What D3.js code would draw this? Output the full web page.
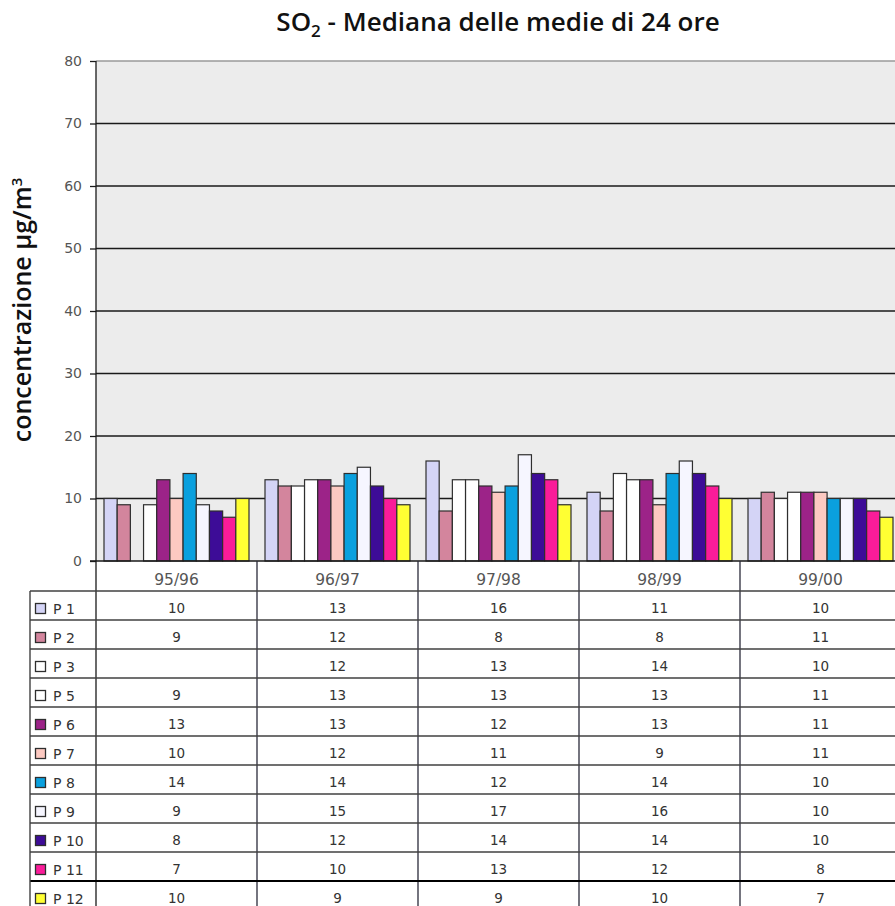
<!DOCTYPE html>
<html>
<head>
<meta charset="utf-8">
<script src="https://cdn.jsdelivr.net/npm/d3@7"></script>
<style>
  html, body { margin: 0; padding: 0; background: #ffffff; }
  svg { display: block; font-family: "DejaVu Sans", Verdana, sans-serif; }
</style>
</head>
<body>
<svg id="chart" width="895" height="906"></svg>
<script>
// Seasons (categories) shown along the x axis
const seasons = ["95/96", "96/97", "97/98", "98/99", "99/00"];

// Monitoring points
const stations = ["P 1", "P 2", "P 3", "P 5", "P 6", "P 7", "P 8", "P 9", "P 10", "P 11", "P 12"];

// Median of 24-hour means per station, one value per season (null = no data)
const p1  = [10, 13, 16, 11, 10];
const p2  = [9, 12, 8, 8, 11];
const p3  = [null, 12, 13, 14, 10];
const p5  = [9, 13, 13, 13, 11];
const p6  = [13, 13, 12, 13, 11];
const p7  = [10, 12, 11, 9, 11];
const p8  = [14, 14, 12, 14, 10];
const p9  = [9, 15, 17, 16, 10];
const p10 = [8, 12, 14, 14, 10];
const p11 = [7, 10, 13, 12, 8];
const p12 = [10, 9, 9, 10, 7];

const seriesValues = [p1, p2, p3, p5, p6, p7, p8, p9, p10, p11, p12];

// Fill colours of each station
const stationColors = ["#d4d4f6", "#d3859d", "#ffffff", "#ffffff", "#9c2388", "#fcc9c1",
                       "#0aa0de", "#f6f6ff", "#3d0c97", "#fa1c99", "#ffff33"];

// y axis ticks
const yTicks = [0, 10, 20, 30, 40, 50, 60, 70, 80];

const svg = d3.select("#chart");
const W = 895, H = 906;

const plot = { left: 96, right: 901, top: 61, bottom: 561 };
const catRowBottom = 591;
const tableLeft = 30;
const tableBottom = 910;

const x = d3.scaleBand().domain(seasons).range([plot.left, plot.right]).padding(0);
const inner = d3.scaleBand().domain(stations).range([8, x.bandwidth() - 8]).padding(0);
const y = d3.scaleLinear().domain([0, 80]).range([plot.bottom, plot.top]);
const rowY = d3.scaleBand().domain(stations).range([catRowBottom, tableBottom]).padding(0);
const color = d3.scaleOrdinal().domain(stations).range(stationColors);

svg.append("defs").append("clipPath").attr("id", "clip")
  .append("rect").attr("x", 0).attr("y", 0).attr("width", W).attr("height", H);

const g = svg.append("g").attr("clip-path", "url(#clip)");

// plot background
g.append("rect")
  .attr("x", plot.left).attr("y", plot.top)
  .attr("width", plot.right - plot.left).attr("height", plot.bottom - plot.top)
  .attr("fill", "#ececec");

// horizontal gridlines
g.append("g").selectAll("line").data(yTicks.filter(d => d > 0)).join("line")
  .attr("x1", plot.left).attr("x2", plot.right)
  .attr("y1", d => y(d)).attr("y2", d => y(d))
  .attr("stroke", d => d === 80 ? "#9a9a9a" : "#1a1a1a")
  .attr("stroke-width", 1.3);

// bars
const bars = [];
stations.forEach((s, si) => {
  seasons.forEach((c, ci) => {
    const v = seriesValues[si][ci];
    if (v !== null) bars.push({ station: s, season: c, value: v });
  });
});

g.append("g").selectAll("rect").data(bars).join("rect")
  .attr("x", d => x(d.season) + inner(d.station))
  .attr("y", d => y(d.value))
  .attr("width", inner.bandwidth())
  .attr("height", d => y(0) - y(d.value))
  .attr("fill", d => color(d.station))
  .attr("stroke", "#2e2e2e")
  .attr("stroke-width", 1.2);

// baseline
g.append("line")
  .attr("x1", plot.left - 6).attr("x2", plot.right)
  .attr("y1", y(0)).attr("y2", y(0))
  .attr("stroke", "#1a1a1a").attr("stroke-width", 1.3);

// y axis
const yAxis = d3.axisLeft(y).tickValues(yTicks).tickSize(6).tickPadding(8);
const ya = g.append("g").attr("transform", `translate(${plot.left},0)`).call(yAxis);
ya.select(".domain").remove();
ya.selectAll(".tick line").attr("stroke", "#1a1a1a").attr("stroke-width", 1.3);
ya.selectAll(".tick text")
  .attr("fill", "#555555")
  .style("font-size", "14px")
  .style("font-family", "'DejaVu Sans', sans-serif");

// vertical axis line, continuing down through the data table
g.append("line")
  .attr("x1", plot.left).attr("x2", plot.left)
  .attr("y1", plot.top).attr("y2", tableBottom)
  .attr("stroke", "#1a1a1a").attr("stroke-width", 1.3);

// season label row separators
g.append("g").selectAll("line").data(seasons.slice(1)).join("line")
  .attr("x1", d => x(d)).attr("x2", d => x(d))
  .attr("y1", plot.bottom).attr("y2", tableBottom)
  .attr("stroke", "#2a2a3a").attr("stroke-width", 1.3);

// season labels
g.append("g").selectAll("text").data(seasons).join("text")
  .attr("x", d => x(d) + x.bandwidth() / 2)
  .attr("y", 585)
  .attr("text-anchor", "middle")
  .attr("fill", "#555555")
  .style("font-size", "15.5px")
  .text(d => d);

// table horizontal rules
const ruleYs = stations.map(s => rowY(s));
g.append("g").selectAll("line").data(ruleYs).join("line")
  .attr("x1", tableLeft).attr("x2", plot.right)
  .attr("y1", d => d).attr("y2", d => d)
  .attr("stroke", (d, i) => i === stations.length - 1 ? "#000000" : "#404040")
  .attr("stroke-width", (d, i) => i === stations.length - 1 ? 2 : 1.4);

// table left border
g.append("line")
  .attr("x1", tableLeft).attr("x2", tableLeft)
  .attr("y1", catRowBottom).attr("y2", tableBottom)
  .attr("stroke", "#404040").attr("stroke-width", 1.4);

// legend keys and station names
const rows = g.append("g").selectAll("g").data(stations).join("g")
  .attr("transform", s => `translate(0,${rowY(s)})`);

rows.append("rect")
  .attr("x", 35.5).attr("y", 12.5)
  .attr("width", 10).attr("height", 10)
  .attr("fill", s => color(s))
  .attr("stroke", "#2e2e2e").attr("stroke-width", 1.3);

rows.append("text")
  .attr("x", 53).attr("y", 22.5)
  .attr("fill", "#333333")
  .style("font-size", "14px")
  .text(s => s);

// table values
rows.selectAll("text.val")
  .data(s => seasons.map((c, ci) => ({ season: c, value: seriesValues[stations.indexOf(s)][ci] })))
  .join("text")
  .attr("class", "val")
  .attr("x", d => x(d.season) + x.bandwidth() / 2)
  .attr("y", 21.5)
  .attr("text-anchor", "middle")
  .attr("fill", "#333333")
  .style("font-size", "13.5px")
  .text(d => d.value === null ? "" : d.value);

// y axis title
const yTitle = svg.append("text")
  .attr("transform", "translate(31,310) rotate(-90)")
  .attr("text-anchor", "middle")
  .attr("fill", "#111111")
  .style("font-family", "'Open Sans', sans-serif")
  .style("font-size", "25px")
  .style("font-weight", "600");
yTitle.append("tspan").text("concentrazione \u00b5g/m");
yTitle.append("tspan").attr("dy", -9).style("font-size", "15px").text("3");

// chart title
const title = svg.append("text")
  .attr("x", 498).attr("y", 31)
  .attr("text-anchor", "middle")
  .attr("fill", "#111111")
  .style("font-family", "'Open Sans', sans-serif")
  .style("font-size", "26px")
  .style("font-weight", "600");
title.append("tspan").text("SO");
title.append("tspan").attr("dy", 6).style("font-size", "17px").text("2");
title.append("tspan").attr("dy", -6).text(" - Mediana delle medie di 24 ore");
</script>
</body>
</html>
